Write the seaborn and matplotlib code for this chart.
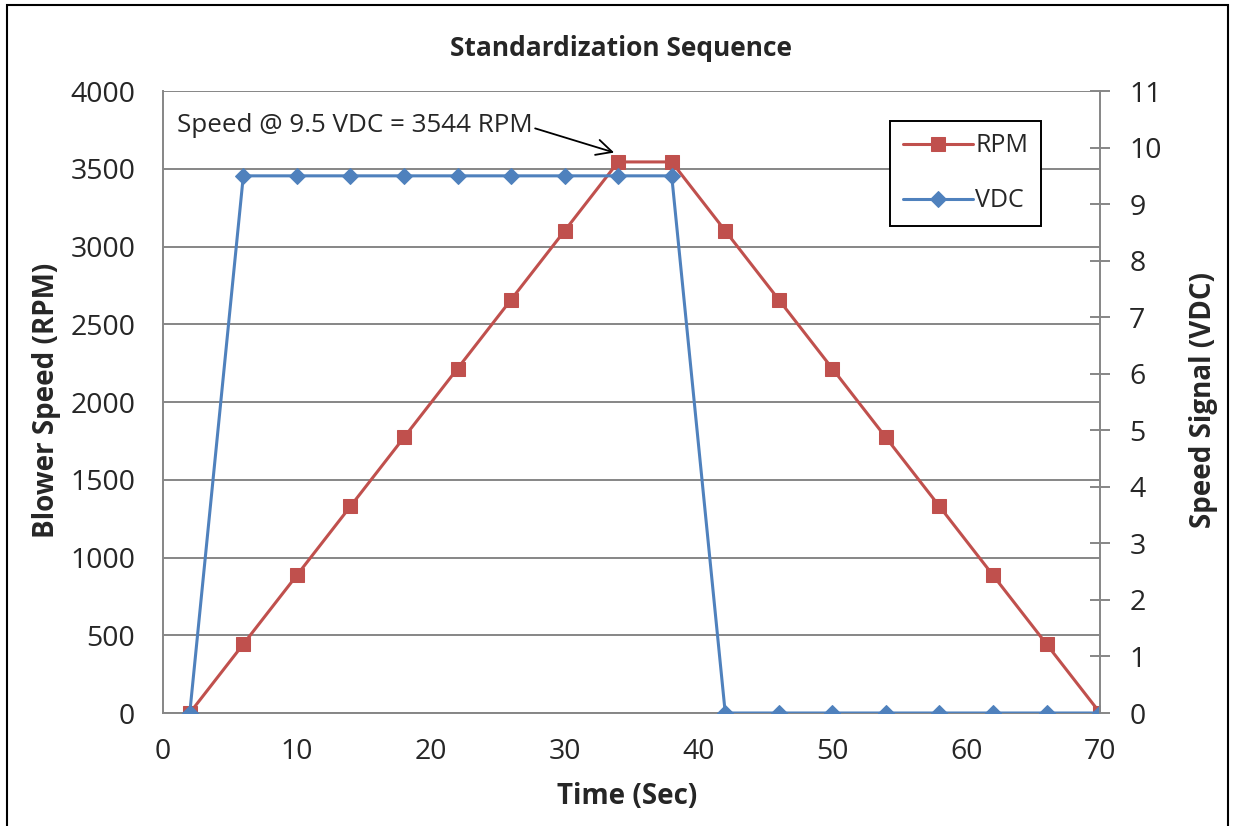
# Standardization sequence: blower speed (RPM) and speed signal (VDC) over time
import matplotlib
matplotlib.use('Agg')
import matplotlib.pyplot as plt
from matplotlib.patches import Rectangle
from matplotlib.ticker import MultipleLocator
import seaborn as sns

time_sec = [2, 6, 10, 14, 18, 22, 26, 30, 34, 38, 42, 46, 50, 54, 58, 62, 66, 70]
rpm = [0, 443, 886, 1329, 1772, 2215, 2658, 3101, 3544, 3544,
       3101, 2658, 2215, 1772, 1329, 886, 443, 0]
vdc = [0, 9.5, 9.5, 9.5, 9.5, 9.5, 9.5, 9.5, 9.5, 9.5,
       0, 0, 0, 0, 0, 0, 0, 0]
series_names = ['RPM', 'VDC']
titulo = 'Standardization Sequence'
nota = 'Speed @ 9.5 VDC = 3544 RPM'

VERMELHO = '#C0504D'
AZUL = '#4F81BD'
CINZA = '#868686'

sns.set_style('white')
plt.rcParams['font.family'] = ['Open Sans', 'DejaVu Sans']

fig = plt.figure(figsize=(12.33, 8.26), dpi=100)
ax = fig.add_axes([0.1322, 0.1368, 0.760, 0.753])
ax2 = ax.twinx()

# séries: RPM no eixo esquerdo, VDC no eixo direito
sns.lineplot(x=time_sec, y=rpm, ax=ax, color=VERMELHO, marker='s', markersize=10,
             markeredgecolor=VERMELHO, linewidth=2.2, label=series_names[0], legend=False)
sns.lineplot(x=time_sec, y=vdc, ax=ax2, color=AZUL, marker='D', markersize=8,
             markeredgecolor=AZUL, linewidth=2.2, label=series_names[1], legend=False)

# eixos
ax.set_xlim(0, 70)
ax.set_ylim(0, 4000)
ax2.set_ylim(0, 11)
ax.xaxis.set_major_locator(MultipleLocator(10))
ax.xaxis.set_minor_locator(MultipleLocator(5))
ax.yaxis.set_major_locator(MultipleLocator(500))
ax2.yaxis.set_major_locator(MultipleLocator(1))

ax.grid(axis='y', color=CINZA, linewidth=1.4)
ax.grid(axis='x', visible=False)
ax2.grid(False)

for a in (ax, ax2):
    for s in a.spines.values():
        s.set_visible(False)
ax.spines['left'].set_visible(True)
ax.spines['bottom'].set_visible(True)
ax2.spines['right'].set_visible(True)
for s in (ax.spines['left'], ax.spines['bottom'], ax2.spines['right']):
    s.set_color(CINZA)
    s.set_linewidth(1.4)

ax.tick_params(axis='x', which='both', direction='inout', length=11.5, width=1.4,
               color=CINZA, labelsize=20.5, pad=12)
ax.tick_params(axis='y', length=0, labelsize=20.5, pad=20)
ax2.tick_params(axis='y', direction='inout', length=14, width=1.4, color=CINZA,
                labelsize=20.5, pad=14)

ax.set_xlabel('Time (Sec)', fontsize=20, fontweight='bold')
ax.set_ylabel('Blower Speed (RPM)', fontsize=20, fontweight='bold')
ax2.set_ylabel('Speed Signal (VDC)', fontsize=20, fontweight='bold')
ax.xaxis.set_label_coords(0.495, -0.135)
ax.xaxis.label.set_va('center')
ax.yaxis.set_label_coords(-0.124, 0.503)
ax.yaxis.label.set_va('center')
ax2.yaxis.set_label_coords(1.110, 0.503)
ax2.yaxis.label.set_va('center')

ax.set_title(titulo, x=0.489, y=1.055, va='center', fontsize=19, fontweight='bold')

# anotação do ponto de pico
pico = rpm.index(max(rpm))
ax.text(1.05, 3780, nota, fontsize=18.7, ha='left', va='center')
ax.annotate('', xy=(time_sec[pico] - 0.1, rpm[pico] + 55), xytext=(27.6, 3765),
            arrowprops=dict(arrowstyle='->', color='black', lw=1.3, mutation_scale=28))

# legenda combinada
h1, l1 = ax.get_legend_handles_labels()
h2, l2 = ax2.get_legend_handles_labels()
leg = ax2.legend(h1 + h2, l1 + l2, loc='upper left', bbox_to_anchor=(0.776, 0.952),
                 fontsize=18, frameon=True, fancybox=False, edgecolor='black',
                 framealpha=1, handlelength=2.8, handletextpad=0.1, labelspacing=1.2,
                 borderpad=0.5, borderaxespad=0)
leg.get_frame().set_linewidth(1.4)

# moldura da figura (borda inferior cortada)
fig.patches.append(Rectangle((0.0057, -0.1), 0.9903, 1.094, transform=fig.transFigure,
                             fill=False, edgecolor='black', linewidth=1.5))

plt.savefig('out.png', dpi=100)
plt.close()
